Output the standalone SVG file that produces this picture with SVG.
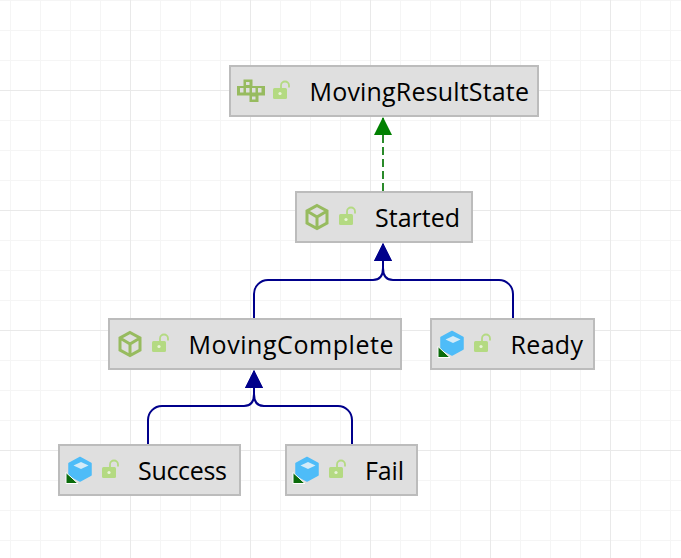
<svg xmlns="http://www.w3.org/2000/svg" width="681" height="558" viewBox="0 0 681 558">
<style>
.g{stroke:#f5f5f5;stroke-width:1}
.G{stroke:#e9e9e9;stroke-width:1}
.box{fill:#dfdfdf;stroke:#bcbcbc;stroke-width:2}
.t{font-family:"Open Sans","Noto Sans",sans-serif;font-size:25px;fill:#000}
.c{fill:none;stroke:#00008b;stroke-width:2}
.pk{fill:none;stroke:#97bb5f;stroke-width:3;stroke-linejoin:miter}
.lk{fill:#b4da82}
.ls{fill:none;stroke:#b4da82;stroke-width:1.8}
.blue{fill:#4ebcf8;stroke:#4ebcf8;stroke-width:1.500;stroke-linejoin:round}
</style>
<defs>
<g id="lock"><rect x="0" y="7" width="14" height="11" rx="1.5" class="lk"/><path class="ls" d="M8 7V4.500A4 4 0 0 1 16 4.500V6.500"/><circle cx="7" cy="12.500" r="1.600" fill="#e8f3d8"/></g>
<g id="pkg"><path class="pk" d="M11 1.500L21 7V19L11 24.500L1 19V7ZM1 7L11 13L21 7M11 13V24.500"/></g>
<g id="cls"><path class="blue" d="M11 0.500L22 6.500V18L11 24L0 18V6.500Z"/><path d="M12 5L19.500 8.500L12 12L4.500 8.500Z" fill="#d3ebf8"/><path d="M-3 15.500L9 26.500H-3Z" fill="#0b6b0b" stroke="#fff" stroke-width="1"/></g>
<marker id="blueArrow" markerUnits="userSpaceOnUse" markerWidth="18" markerHeight="18" refX="17" refY="9" orient="auto"><path d="M0 0L18 9L0 18Z" fill="#00008b"/></marker>
<marker id="greenArrow" markerUnits="userSpaceOnUse" markerWidth="18" markerHeight="18" refX="17" refY="9" orient="auto"><path d="M0 0L18 9L0 18Z" fill="#008000"/></marker>
</defs>
<rect width="681" height="558" fill="#fff"/>
<g id="grid-lines">
<path class="g" d="M10.500 0V558M40.500 0V558M70.500 0V558M100.500 0V558M160.500 0V558M190.500 0V558M220.500 0V558M280.500 0V558M310.500 0V558M340.500 0V558M400.500 0V558M430.500 0V558M460.500 0V558M520.500 0V558M550.500 0V558M580.500 0V558M640.500 0V558M670.500 0V558"/>
<path class="g" d="M0 0.500H681M0 30.500H681M0 60.500H681M0 120.500H681M0 150.500H681M0 180.500H681M0 240.500H681M0 270.500H681M0 300.500H681M0 360.500H681M0 390.500H681M0 420.500H681M0 480.500H681M0 510.500H681M0 540.500H681"/>
<path class="G" d="M130.500 0V558M250.500 0V558M370.500 0V558M490.500 0V558M610.500 0V558M0 90.500H681M0 210.500H681M0 330.500H681M0 450.500H681"/>
</g>
<g id="connectors">
<path d="M383 191V118" fill="none" stroke="#2a8a2a" stroke-width="2" stroke-dasharray="8 4" marker-end="url(#greenArrow)"/>
<path class="c" d="M254 318V294A14 14 0 0 1 268 280H373Q383 280 383 268V244" marker-end="url(#blueArrow)"/>
<path class="c" d="M513 318V294A14 14 0 0 0 499 280H393Q383 280 383 268V244" marker-end="url(#blueArrow)"/>
<path class="c" d="M148 444V420A14 14 0 0 1 162 406H244Q254 406 254 394V371" marker-end="url(#blueArrow)"/>
<path class="c" d="M352 444V420A14 14 0 0 0 338 406H264Q254 406 254 394V371" marker-end="url(#blueArrow)"/>
</g>
<g id="node-MovingResultState">
<rect class="box" x="230" y="66" width="308" height="50"/>
<path fill="#97bb5f" fill-rule="evenodd" d="M243.500 79.500H252.500V86H265V95.500H258.500V102H249.500V95.500H237V86H243.500ZM246 82V85H249.500V82ZM240 88V92.500H243.500V88ZM246 88V92.500H249.500V88ZM252 88V92.500H255.500V88ZM258 88V92.500H261.500V88ZM252 96.500V99.500H255.500V96.500Z"/>
<use href="#lock" x="273" y="81"/>
<text class="t" x="309.500" y="101" textLength="219.500">MovingResultState</text>
</g>
<g id="node-Started">
<rect class="box" x="296" y="192" width="176" height="50"/>
<use href="#pkg" x="306" y="204"/>
<use href="#lock" x="339" y="207"/>
<text class="t" x="375" y="227" textLength="85">Started</text>
</g>
<g id="node-MovingComplete">
<rect class="box" x="109" y="319" width="292" height="50"/>
<use href="#pkg" x="119" y="331"/>
<use href="#lock" x="152" y="334"/>
<text class="t" x="188.500" y="354" textLength="205">MovingComplete</text>
</g>
<g id="node-Ready">
<rect class="box" x="431" y="319" width="163" height="50"/>
<use href="#cls" x="441" y="331"/>
<use href="#lock" x="474" y="334"/>
<text class="t" x="510.500" y="354" textLength="72.500">Ready</text>
</g>
<g id="node-Success">
<rect class="box" x="59" y="445" width="181" height="50"/>
<use href="#cls" x="69" y="457"/>
<use href="#lock" x="102" y="460"/>
<text class="t" x="138" y="480" textLength="89">Success</text>
</g>
<g id="node-Fail">
<rect class="box" x="286" y="445" width="131" height="50"/>
<use href="#cls" x="296" y="457"/>
<use href="#lock" x="329" y="460"/>
<text class="t" x="365" y="480" textLength="39">Fail</text>
</g>
</svg>
